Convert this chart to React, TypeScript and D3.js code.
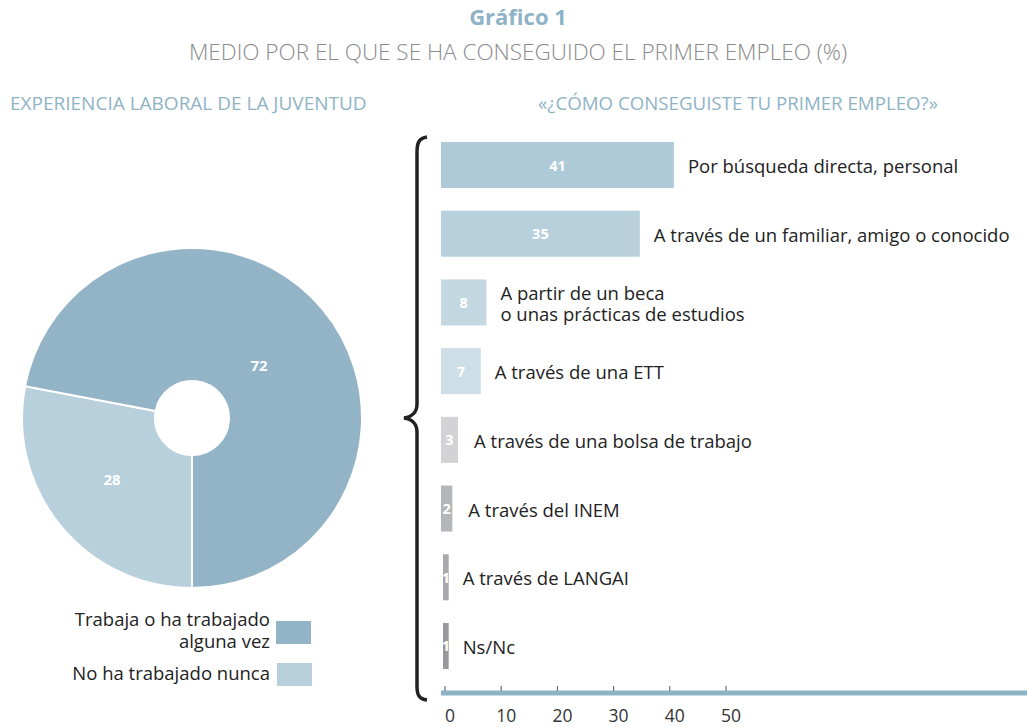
import React from "react";
import * as d3 from "d3";

const pieLabels = ["No ha trabajado nunca", "Trabaja o ha trabajado alguna vez"];
const pieValues = [28, 72];
const pieColors = ["#b8d0dc", "#93b4c6"];

const barLabels = [
  ["Por búsqueda directa, personal"],
  ["A través de un familiar, amigo o conocido"],
  ["A partir de un beca", "o unas prácticas de estudios"],
  ["A través de una ETT"],
  ["A través de una bolsa de trabajo"],
  ["A través del INEM"],
  ["A través de LANGAI"],
  ["Ns/Nc"],
];
const barValues = [41, 35, 8, 7, 3, 2, 1, 1];
const barColors = ["#aecad8", "#b8d0dc", "#c4d8e2", "#cddee7", "#d3d3d5", "#b5b6ba", "#a9a9ac", "#98989b"];
const tickValues = [0, 10, 20, 30, 40, 50];

const FONT = "'Open Sans', 'Noto Sans', sans-serif";
const BLUE = "#8fb3c6";
const LABEL_SIZE = 18.5;

export default function App() {
  const cx = 192, cy = 418;
  const pie = d3.pie<number>().sort(null).startAngle(Math.PI).endAngle(3 * Math.PI);
  const arcs = pie(pieValues);
  const arc = d3.arc<d3.PieArcDatum<number>>().innerRadius(37).outerRadius(170);

  const x = d3.scaleLinear().domain([0, 50]).range([441, 725]);
  const xt = d3.scaleLinear().domain([0, 50]).range([445, 726]);
  const y = d3.scaleBand<number>().domain(d3.range(barValues.length)).range([142, 669]).paddingInner(0.33).paddingOuter(0);

  const bracePath = "M427,137 C419,138 417,143 417,152 L417,404 C417,412 412,417 404,418 C412,419 417,424 417,432 L417,686 C417,695 419,699 427,700";

  return (
    <svg width={1027} height={727} style={{ position: "absolute", left: 0, top: 0, background: "#fff" }} fontFamily={FONT}>
      <text x={518} y={25} textAnchor="middle" fontSize={22} fontWeight={700} fill={BLUE}>Gráfico 1</text>
      <text x={518} y={60} textAnchor="middle" fontSize={22.5} fontWeight={300} fill="#8a8a8a">MEDIO POR EL QUE SE HA CONSEGUIDO EL PRIMER EMPLEO (%)</text>
      <text x={10} y={110} fontSize={19} fill={BLUE}>EXPERIENCIA LABORAL DE LA JUVENTUD</text>
      <text x={738} y={110} textAnchor="middle" fontSize={18.7} fill={BLUE}>«¿CÓMO CONSEGUISTE TU PRIMER EMPLEO?»</text>

      <g transform={`translate(${cx},${cy})`}>
        {arcs.map((a, i) => (
          <path key={i} d={arc(a) || ""} fill={pieColors[i]} stroke="#fff" strokeWidth={2} />
        ))}
        {arcs.map((a, i) => {
          const [lx, ly] = i === 1 ? [67, -51] : [-80, 63];
          return (
            <text key={i} x={lx} y={ly} textAnchor="middle" dominantBaseline="middle" fontSize={15} fontWeight={700} fill="#fff">{pieValues[i]}</text>
          );
        })}
      </g>

      {/* legend */}
      <text textAnchor="end" fontSize={LABEL_SIZE} fill="#222">
        <tspan x={270} y={626}>Trabaja o ha trabajado</tspan>
        <tspan x={270} y={648}>alguna vez</tspan>
      </text>
      <rect x={276} y={621} width={35} height={23} fill={pieColors[1]} />
      <text x={270} y={680} textAnchor="end" fontSize={LABEL_SIZE} fill="#222">No ha trabajado nunca</text>
      <rect x={277} y={663} width={35} height={23} fill={pieColors[0]} />

      {/* brace */}
      <path d={bracePath} fill="none" stroke="#222" strokeWidth={3.5} />

      {/* bars */}
      {barValues.map((v, i) => {
        const y0 = y(i)!;
        const bw = y.bandwidth();
        const w = x(v) - x(0);
        const lines = barLabels[i];
        const lx = x(v) + (v < 5 ? 16 : 14);
        const bx = x(0) + (v === 1 ? 2 : 0);
        return (
          <g key={i}>
            <rect x={bx} y={y0} width={w} height={bw} fill={barColors[i]} />
            <text x={bx + w / 2} y={y0 + bw / 2} textAnchor="middle" dominantBaseline="central" fontSize={14.5} fontWeight={700} fill="#fff">{v}</text>
            <text dominantBaseline="central" fontSize={LABEL_SIZE} fill="#222">
              {lines.map((l, j) => (
                <tspan key={j} x={lx} y={y0 + bw / 2 + (j - (lines.length - 1) / 2) * 21}>{l}</tspan>
              ))}
            </text>
          </g>
        );
      })}

      {/* axis */}
      <line x1={441} x2={1027} y1={693} y2={693} stroke={BLUE} strokeWidth={5} />
      {tickValues.map((t) => (
        <g key={t}>
          <line x1={xt(t)} x2={xt(t)} y1={686} y2={691} stroke="#555" strokeWidth={1} />
          <text x={xt(t) + 5} y={722} textAnchor="middle" fontSize={17.5} fill="#333">{t}</text>
        </g>
      ))}
    </svg>
  );
}
